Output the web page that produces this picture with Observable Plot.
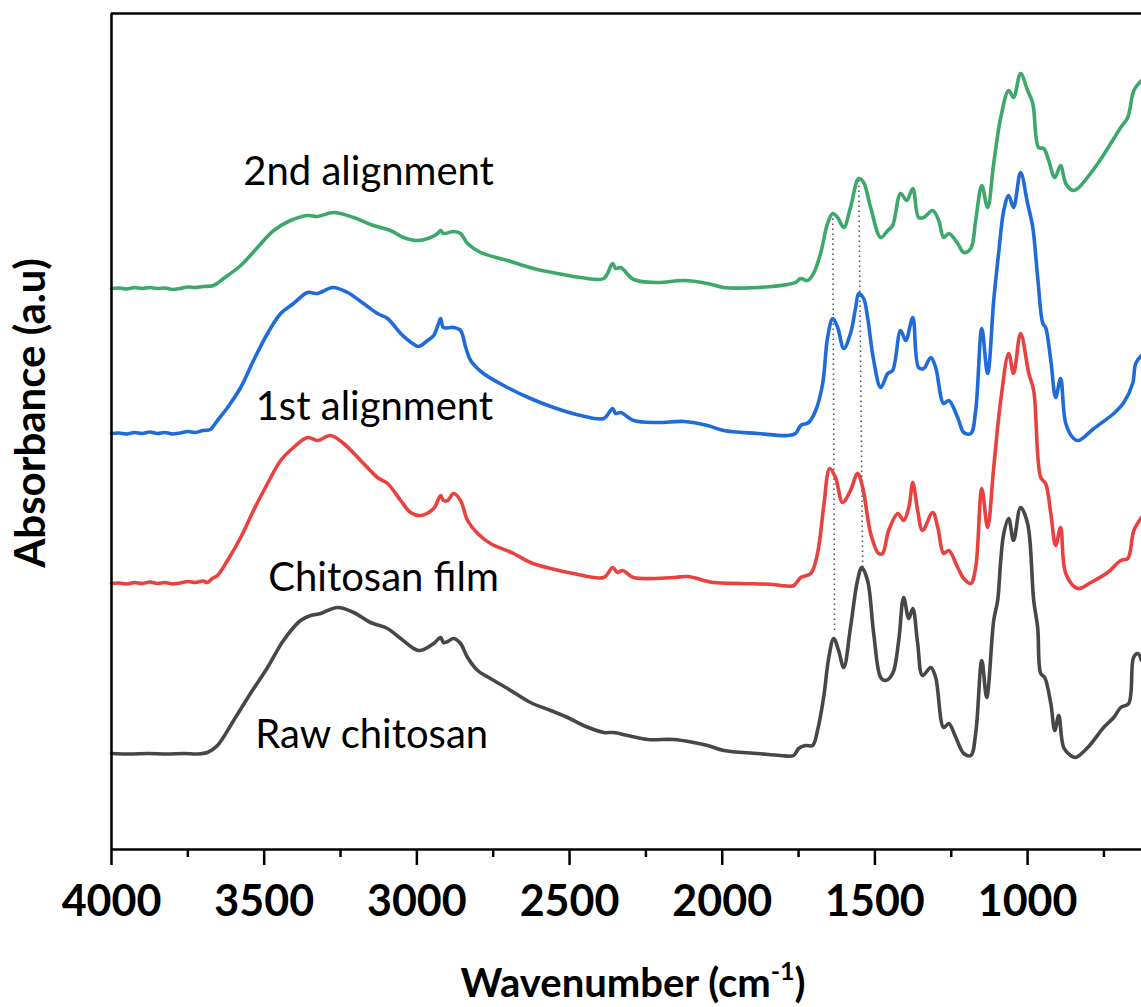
<!DOCTYPE html>
<html>
<head>
<meta charset="utf-8">
<script src="https://cdn.jsdelivr.net/npm/d3@7"></script>
<script src="https://cdn.jsdelivr.net/npm/@observablehq/plot@0.6"></script>
<style>
  body { margin: 0; background: #fff; }
  #chart svg { display: block; }
</style>
</head>
<body>
<div id="chart"></div>
<script>
// ---- Axis ticks ----
const majorTicks = [4000, 3500, 3000, 2500, 2000, 1500, 1000];
const minorTicks = [3750, 3250, 2750, 2250, 1750, 1250, 750];

// ---- Series ----
const seriesNames = ["Raw chitosan", "Chitosan film", "1st alignment", "2nd alignment"];
const seriesColors = ["#474747", "#e8413f", "#1f6bd8", "#3ca86a"];

// [wavenumber (cm-1), absorbance (a.u., stacked offsets)]
const rawChitosan = [[4000,0.96],[3940,0.955],[3880,0.96],[3820,0.955],[3760,0.96],[3720,0.955],[3686,0.97],[3653,1.04],[3600,1.29],[3545,1.56],[3489,1.82],[3437,2.09],[3381,2.29],[3348,2.34],[3315,2.36],[3260,2.42],[3207,2.37],[3152,2.27],[3096,2.21],[3053,2.11],[2994,1.99],[2945,2.06],[2922,2.12],[2913,2.07],[2899,2.08],[2880,2.11],[2857,2.06],[2834,1.92],[2801,1.79],[2759,1.71],[2703,1.61],[2628,1.47],[2562,1.39],[2506,1.32],[2454,1.24],[2388,1.17],[2356,1.17],[2310,1.14],[2244,1.10],[2159,1.10],[2094,1.07],[2048,1.04],[1995,0.99],[1884,0.96],[1809,0.94],[1766,0.94],[1750,1.01],[1727,1.04],[1704,1.04],[1688,1.19],[1668,1.52],[1651,1.92],[1635,2.11],[1619,1.99],[1602,1.82],[1580,2.22],[1557,2.69],[1543,2.82],[1524,2.69],[1504,2.16],[1481,1.72],[1465,1.69],[1442,1.76],[1422,2.09],[1406,2.52],[1389,2.31],[1376,2.41],[1360,2.06],[1344,1.74],[1317,1.82],[1301,1.72],[1275,1.22],[1258,1.26],[1235,1.12],[1209,0.96],[1186,0.94],[1170,1.16],[1150,1.89],[1134,1.52],[1111,2.29],[1098,2.49],[1088,2.89],[1078,3.16],[1062,3.31],[1046,3.09],[1023,3.42],[1000,3.26],[980,2.49],[967,2.22],[957,1.76],[944,1.72],[924,1.46],[911,1.19],[898,1.34],[882,1.02],[859,0.94],[843,0.92],[803,1.02],[751,1.22],[718,1.32],[695,1.42],[669,1.46],[653,1.92],[639,1.96],[627,1.89]];

const chitosanFilm = [[4000,2.66],[3975,2.665],[3950,2.655],[3925,2.67],[3900,2.66],[3875,2.675],[3850,2.66],[3825,2.67],[3800,2.655],[3775,2.665],[3750,2.68],[3725,2.67],[3700,2.685],[3686,2.67],[3670,2.71],[3653,2.74],[3620,2.89],[3577,3.12],[3535,3.39],[3489,3.66],[3446,3.89],[3404,4.02],[3358,4.12],[3325,4.09],[3283,4.14],[3240,4.06],[3184,3.89],[3129,3.72],[3096,3.66],[3053,3.49],[3021,3.37],[2988,3.34],[2945,3.41],[2922,3.54],[2913,3.49],[2899,3.49],[2880,3.56],[2857,3.49],[2834,3.29],[2801,3.16],[2759,3.06],[2683,2.96],[2628,2.87],[2562,2.81],[2487,2.76],[2388,2.72],[2359,2.82],[2343,2.77],[2326,2.79],[2290,2.72],[2159,2.72],[2113,2.73],[2028,2.67],[1940,2.66],[1832,2.65],[1809,2.64],[1766,2.64],[1743,2.72],[1710,2.76],[1688,2.96],[1668,3.42],[1648,3.81],[1629,3.72],[1606,3.47],[1580,3.59],[1557,3.76],[1540,3.62],[1514,3.16],[1488,2.96],[1475,2.96],[1455,3.19],[1425,3.36],[1406,3.29],[1389,3.42],[1376,3.67],[1360,3.39],[1344,3.19],[1311,3.37],[1294,3.22],[1275,2.96],[1258,2.99],[1229,2.82],[1209,2.71],[1186,2.66],[1170,2.82],[1150,3.61],[1131,3.22],[1111,3.82],[1088,4.49],[1062,4.96],[1046,4.76],[1023,5.16],[996,4.76],[980,4.59],[957,3.72],[941,3.66],[924,3.36],[908,3.04],[892,3.22],[875,2.76],[836,2.61],[793,2.67],[738,2.77],[695,2.89],[672,2.91],[652,3.19],[627,3.32]];

const firstAlignment = [[4000,4.16],[3975,4.165],[3950,4.155],[3925,4.17],[3900,4.16],[3875,4.175],[3850,4.16],[3825,4.17],[3800,4.155],[3775,4.165],[3750,4.18],[3725,4.17],[3700,4.19],[3676,4.20],[3665,4.24],[3653,4.29],[3620,4.42],[3577,4.62],[3535,4.89],[3489,5.16],[3446,5.36],[3404,5.46],[3358,5.57],[3325,5.56],[3276,5.62],[3227,5.57],[3175,5.46],[3129,5.36],[3096,5.31],[3053,5.16],[3014,5.06],[2994,5.03],[2965,5.09],[2945,5.14],[2929,5.26],[2922,5.31],[2913,5.22],[2890,5.22],[2880,5.22],[2857,5.19],[2840,5.02],[2824,4.89],[2782,4.76],[2703,4.62],[2628,4.51],[2552,4.42],[2464,4.34],[2388,4.31],[2359,4.41],[2349,4.36],[2333,4.37],[2290,4.29],[2212,4.27],[2126,4.28],[2048,4.24],[1995,4.19],[1884,4.16],[1786,4.14],[1760,4.16],[1743,4.24],[1717,4.27],[1694,4.39],[1671,4.66],[1655,5.12],[1638,5.31],[1622,5.22],[1602,5.01],[1580,5.16],[1563,5.42],[1553,5.56],[1537,5.51],[1524,5.32],[1504,4.89],[1481,4.62],[1458,4.76],[1442,4.79],[1416,5.19],[1399,5.09],[1376,5.32],[1357,4.82],[1340,4.81],[1317,4.92],[1301,4.82],[1275,4.46],[1258,4.49],[1229,4.32],[1209,4.17],[1186,4.16],[1170,4.39],[1150,5.21],[1131,4.76],[1111,5.49],[1095,5.96],[1078,6.39],[1062,6.54],[1046,6.42],[1023,6.77],[1000,6.46],[983,6.22],[967,5.72],[950,5.26],[941,5.22],[924,4.89],[908,4.52],[892,4.71],[875,4.26],[849,4.11],[833,4.09],[783,4.21],[718,4.36],[685,4.47],[656,4.66],[646,4.86],[627,4.94]];

const secondAlignment = [[4000,5.61],[3975,5.615],[3950,5.605],[3925,5.62],[3900,5.61],[3875,5.62],[3850,5.61],[3825,5.615],[3800,5.60],[3775,5.61],[3750,5.625],[3725,5.62],[3700,5.63],[3666,5.64],[3633,5.71],[3577,5.84],[3522,6.02],[3469,6.19],[3414,6.29],[3358,6.34],[3325,6.33],[3273,6.37],[3207,6.32],[3142,6.24],[3086,6.19],[3044,6.12],[2998,6.09],[2955,6.12],[2932,6.16],[2922,6.19],[2913,6.16],[2880,6.18],[2857,6.16],[2834,6.06],[2791,5.97],[2703,5.89],[2618,5.81],[2539,5.76],[2464,5.72],[2388,5.71],[2359,5.86],[2349,5.81],[2333,5.82],[2290,5.70],[2212,5.67],[2126,5.69],[2048,5.66],[1995,5.62],[1884,5.62],[1786,5.65],[1760,5.67],[1743,5.71],[1720,5.69],[1701,5.76],[1678,5.96],[1655,6.26],[1638,6.36],[1622,6.32],[1602,6.22],[1580,6.42],[1553,6.71],[1537,6.67],[1514,6.42],[1481,6.12],[1458,6.19],[1442,6.24],[1416,6.56],[1396,6.49],[1376,6.61],[1357,6.32],[1340,6.32],[1311,6.39],[1291,6.29],[1275,6.12],[1258,6.16],[1229,6.06],[1209,5.97],[1186,6.01],[1170,6.29],[1150,6.64],[1131,6.42],[1111,6.86],[1088,7.32],[1062,7.59],[1046,7.52],[1023,7.76],[1000,7.59],[983,7.46],[964,7.02],[947,7.01],[931,6.89],[911,6.72],[892,6.84],[875,6.66],[852,6.59],[836,6.61],[770,6.86],[695,7.22],[672,7.32],[652,7.59],[627,7.69]];

// Curve labels: [wavenumber, absorbance] of text centre
const labelPositions = [[3148, 1.14], [3109, 2.71], [3139, 4.42], [3158, 6.77]];

// Dotted guides linking the amide peaks: [wn top, abs top, wn bottom, abs bottom]
const peakGuides = [[1638, 6.36, 1632, 2.19], [1553, 6.69, 1540, 2.82]];

// Axis extent
const xDomain = [4000, 627];
const yDomain = [0, 8.36];

// ---- Build tables ----
const seriesData = [rawChitosan, chitosanFilm, firstAlignment, secondAlignment];
const rows = seriesData.flatMap((s, i) => s.map(([wn, abs]) => ({series: seriesNames[i], wn, abs})));
const labels = labelPositions.map(([wn, abs], i) => ({series: seriesNames[i], wn, abs}));
const guides = peakGuides.map(([x1, y1, x2, y2]) => ({x1, y1, x2, y2}));

const font = "Lato, 'Open Sans', sans-serif";

const plot = Plot.plot({
  width: 1141,
  height: 1007,
  marginLeft: 111,
  marginRight: 0,
  marginTop: 13,
  marginBottom: 158,
  x: {domain: xDomain, axis: null},
  y: {domain: yDomain, axis: null},
  color: {domain: seriesNames, range: seriesColors},
  style: {background: "#fff", fontFamily: font, color: "#000", overflow: "visible"},
  marks: [
    Plot.link(guides, {x1: "x1", y1: "y1", x2: "x2", y2: "y2", stroke: "#555", strokeWidth: 1.6, strokeDasharray: "1.6,3.4"}),
    Plot.line(rows, {x: "wn", y: "abs", z: "series", stroke: "series", strokeWidth: 3.6, curve: "catmull-rom", strokeLinejoin: "round"}),
    Plot.text(labels, {x: "wn", y: "abs", text: "series", fontSize: 40, fill: "#000", textAnchor: "middle", lineAnchor: "middle"}),
    Plot.axisX(minorTicks, {tickSize: 8, tickFormat: () => "", strokeWidth: 2.5, label: null}),
    Plot.axisX(majorTicks, {tickSize: 16, tickPadding: 20, fontSize: 43, fontWeight: "bold", strokeWidth: 2.5, tickFormat: d => String(d), label: null}),
    Plot.ruleY([yDomain[0]], {stroke: "#000", strokeWidth: 2.5}),
    Plot.ruleY([yDomain[1]], {stroke: "#000", strokeWidth: 2.5}),
    Plot.ruleX([xDomain[0]], {stroke: "#000", strokeWidth: 2.5})
  ]
});

document.getElementById("chart").appendChild(plot);

// ---- Axis titles ----
const svg = d3.select(plot);
const xr = plot.scale("x").range;
const yr = plot.scale("y").range;
const xt = svg.append("text")
  .attr("x", (xr[0] + xr[1]) / 2 + 7)
  .attr("y", 997)
  .attr("text-anchor", "middle")
  .attr("font-family", font)
  .attr("font-weight", "bold")
  .attr("font-size", 40)
  .attr("fill", "#000");
xt.append("tspan").text("Wavenumber (cm");
xt.append("tspan").attr("font-size", 25).attr("dy", -17).text("-1");
xt.append("tspan").attr("dy", 17).text(")");

svg.append("text")
  .attr("transform", `translate(30,${(yr[0] + yr[1]) / 2 - 18}) rotate(-90)`)
  .attr("text-anchor", "middle")
  .attr("dy", "0.36em")
  .attr("font-family", font)
  .attr("font-weight", "bold")
  .attr("font-size", 42)
  .attr("fill", "#000")
  .text("Absorbance (a.u)");
</script>
</body>
</html>
